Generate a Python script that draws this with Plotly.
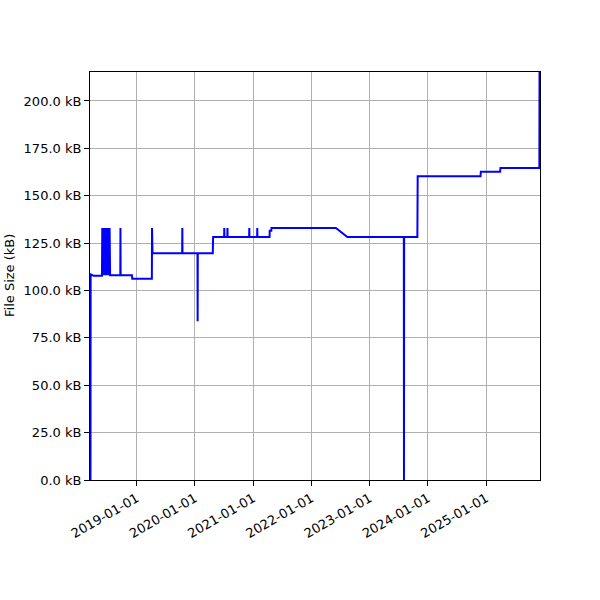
import plotly.graph_objects as go

# commit dates and file sizes (kB)
dates = [
    "2018-03-17", "2018-03-18", "2018-04-05", "2018-05-28",
    "2018-05-30", "2018-06-01", "2018-06-04", "2018-06-07",
    "2018-06-10", "2018-06-13", "2018-06-17", "2018-06-20",
    "2018-06-24", "2018-06-27", "2018-07-01", "2018-07-04",
    "2018-07-08", "2018-07-11", "2018-07-15", "2018-07-18",
    "2018-09-20", "2018-09-21", "2018-09-22", "2018-12-02",
    "2018-12-04", "2019-04-06", "2019-04-07", "2019-04-08",
    "2019-04-10", "2019-10-13", "2019-10-14", "2019-10-15",
    "2020-01-17", "2020-01-18", "2020-01-19", "2020-04-22",
    "2020-04-24", "2020-07-02", "2020-07-03", "2020-07-04",
    "2020-07-22", "2020-07-23", "2020-07-24", "2020-12-06",
    "2020-12-07", "2020-12-08", "2021-01-25", "2021-01-26",
    "2021-01-27", "2021-04-13", "2021-04-14", "2021-04-24",
    "2021-04-25", "2022-06-03", "2022-08-14", "2023-08-03",
    "2023-08-04", "2023-08-05", "2023-10-27", "2023-10-29",
    "2024-11-26", "2024-11-28", "2025-03-29", "2025-03-31",
    "2025-11-30", "2025-12-02",
]
sizes_kb = [
    0.0, 108.5, 107.8, 107.8,
    133.0, 108.0, 133.0, 108.0,
    133.0, 108.0, 133.0, 108.0,
    133.0, 108.0, 133.0, 108.0,
    133.0, 108.0, 133.0, 108.0,
    108.0, 133.0, 108.0, 108.0,
    106.2, 106.2, 133.0, 124.5,
    119.6, 119.6, 133.0, 119.6,
    119.6, 83.8, 119.6, 119.6,
    128.2, 128.2, 133.0, 128.2,
    128.2, 133.0, 128.2, 128.2,
    133.0, 128.2, 128.2, 133.0,
    128.2, 128.2, 131.5, 131.5,
    133.0, 133.0, 128.2, 128.2,
    0.0, 128.2, 128.2, 160.3,
    160.3, 162.7, 162.7, 164.6,
    164.6, 260.0,
]

x_range = ["2018-03-14", "2025-12-04"]
y_range = [0, 215.3]

fig = go.Figure()
fig.add_trace(go.Scatter(x=dates, y=sizes_kb, mode="lines",
                         line=dict(color="#0000ff", width=2), showlegend=False))

axis_style = dict(showline=True, linecolor="black", linewidth=1, mirror=True,
                  ticks="outside", ticklen=5, tickcolor="black", automargin=False,
                  showgrid=True, gridcolor="#b0b0b0", gridwidth=1, zeroline=False,
                  tickfont=dict(size=13))

fig.update_layout(
    width=600, height=600,
    margin=dict(l=90, r=60, t=72, b=120),
    paper_bgcolor="white", plot_bgcolor="white",
    font=dict(family="DejaVu Sans", size=13, color="black"),
)
fig.update_xaxes(range=x_range, type="date", tick0="2019-01-01", dtick="M12",
                 tickformat="%Y-%m-%d", tickangle=-30, **axis_style)
fig.update_yaxes(range=y_range, dtick=25, tickformat=".1f", ticksuffix=" kB",
                 **axis_style)

# y label placed by hand, axis title standoff is ignored without automargin
fig.add_annotation(text="File Size (kB)", textangle=-90, showarrow=False,
                   xref="paper", yref="paper", x=-81 / 450, y=0.5,
                   xanchor="center", yanchor="middle", font=dict(size=13))

# drop the default 8px body margin so the figure sits at the page corner
fig.write_html("out.html", config={"displayModeBar": False},
               post_script="document.body.style.margin='0';")
